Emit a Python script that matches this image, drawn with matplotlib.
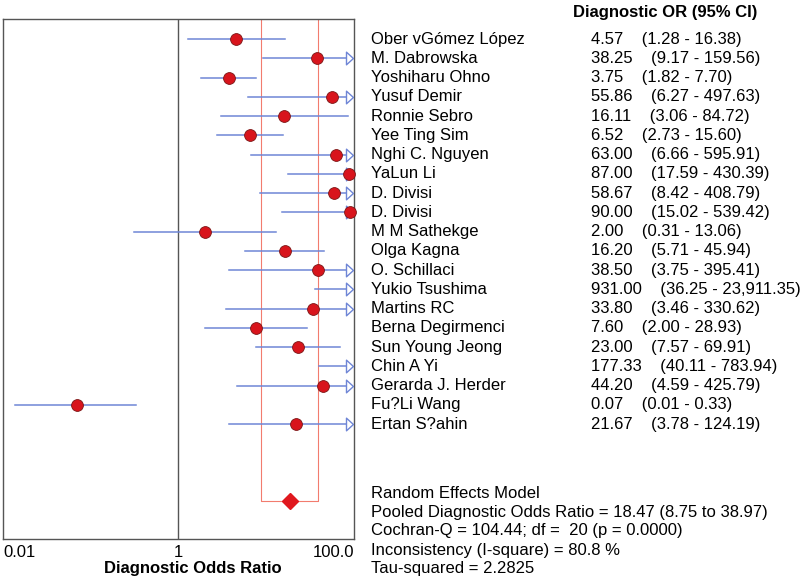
import numpy as np
import matplotlib
matplotlib.use("Agg")
import matplotlib.pyplot as plt
from matplotlib.path import Path
from matplotlib.transforms import blended_transform_factory

plt.rcParams['font.family'] = ['Liberation Sans', 'DejaVu Sans']

studies = ["Ober vGómez López", "M. Dabrowska", "Yoshiharu Ohno", "Yusuf Demir",
           "Ronnie Sebro", "Yee Ting Sim", "Nghi C. Nguyen", "YaLun Li", "D. Divisi",
           "D. Divisi", "M M Sathekge", "Olga Kagna", "O. Schillaci", "Yukio Tsushima",
           "Martins RC", "Berna Degirmenci", "Sun Young Jeong", "Chin A Yi",
           "Gerarda J. Herder", "Fu?Li Wang", "Ertan S?ahin"]
dor = [4.57, 38.25, 3.75, 55.86, 16.11, 6.52, 63.00, 87.00, 58.67, 90.00, 2.00,
       16.20, 38.50, 931.00, 33.80, 7.60, 23.00, 177.33, 44.20, 0.07, 21.67]
ci_low = [1.28, 9.17, 1.82, 6.27, 3.06, 2.73, 6.66, 17.59, 8.42, 15.02, 0.31,
          5.71, 3.75, 36.25, 3.46, 2.00, 7.57, 40.11, 4.59, 0.0137, 3.78]
ci_high = [16.38, 159.56, 7.70, 497.63, 84.72, 15.60, 595.91, 430.39, 408.79, 539.42, 13.06,
           45.94, 395.41, 23911.35, 330.62, 28.93, 69.91, 783.94, 425.79, 0.33, 124.19]

pooled = 18.47
pooled_low = 8.75
pooled_high = 38.97

summary_lines = ["Random Effects Model",
                 "Pooled Diagnostic Odds Ratio = 18.47 (8.75 to 38.97)",
                 "Cochran-Q = 104.44; df =  20 (p = 0.0000)",
                 "Inconsistency (I-square) = 80.8 %",
                 "Tau-squared = 2.2825"]

blue = '#6f86d6'
red = '#d8141c'
pink = '#f27c6e'
frame = '#555555'
W, H = 800, 581

fig = plt.figure(figsize=(8, 5.81), dpi=100)
ax = fig.add_axes([3 / W, 42 / H, 351 / W, 520 / H])
ax.set_xscale('log')
ax.set_xlim(0.01, 100)
ax.set_ylim(25.97, -1.04)

n = len(studies)
pooled_row = 24

# open triangle for truncated CIs
tri = Path([(0, -1), (1.1, 0), (0, 1), (0, -1)],
           [Path.MOVETO, Path.LINETO, Path.LINETO, Path.CLOSEPOLY])
arrow_frac = 1 - 7.7 / 351
arrow_val = 10 ** (-2 + arrow_frac * 4)
ytr = ax.get_yaxis_transform()

for i in range(n):
    hi = ci_high[i]
    if hi > 100:
        ax.plot([ci_low[i], arrow_val], [i, i], color=blue, lw=1.1, zorder=2)
        ax.plot([arrow_frac], [i], marker=tri, ms=10, mfc='white', mec=blue,
                mew=1.0, transform=ytr, clip_on=False, zorder=3)
    else:
        ax.plot([ci_low[i], hi], [i, i], color=blue, lw=1.1, zorder=2)
    if dor[i] <= 100:
        ax.plot(dor[i], i, 'o', ms=8.5, mfc=red, mec='#7a1515', mew=0.6,
                clip_on=False, zorder=4)

# pooled CI bracket
ax.plot([pooled_low, pooled_low, pooled_high, pooled_high],
        [-1.04, pooled_row, pooled_row, -1.04], color=pink, lw=0.8, zorder=1)
ax.plot(pooled, pooled_row, 'D', ms=8, color='#e0181e', zorder=5)

ax.axvline(1, color=frame, lw=1.0, zorder=1)

for s in ax.spines.values():
    s.set_color(frame)
    s.set_linewidth(1.0)
ax.set_yticks([])
ax.set_xticks([0.01, 1, 100])
ax.set_xticks([], minor=True)
ax.set_xticklabels(["0.01", "1", "100.0"], fontsize=12)
ax.tick_params(axis='x', length=0, pad=4)
labs = ax.get_xticklabels()
labs[0].set_ha('left')
labs[2].set_ha('right')

fig.text(193 / W, 1 - 568 / H, "Diagnostic Odds Ratio", ha='center', va='center',
         fontsize=12, fontweight='bold')

# right hand table
tr = blended_transform_factory(fig.transFigure, ax.transData)
fig.text(573 / W, 1 - 12 / H, "Diagnostic OR (95% CI)", ha='left', va='center',
         fontsize=12, fontweight='bold')
for i in range(n):
    ax.text(371 / W, i, studies[i], transform=tr, ha='left', va='center', fontsize=12)
    ax.text(591 / W, i, "{:,.2f}    ({:,.2f} - {:,.2f})".format(dor[i], ci_low[i], ci_high[i]),
            transform=tr, ha='left', va='center', fontsize=12)

for k, line in enumerate(summary_lines):
    fig.text(371 / W, 1 - (493 + 19 * k) / H, line, ha='left', va='center', fontsize=12)

fig.savefig("out.png", dpi=100)
